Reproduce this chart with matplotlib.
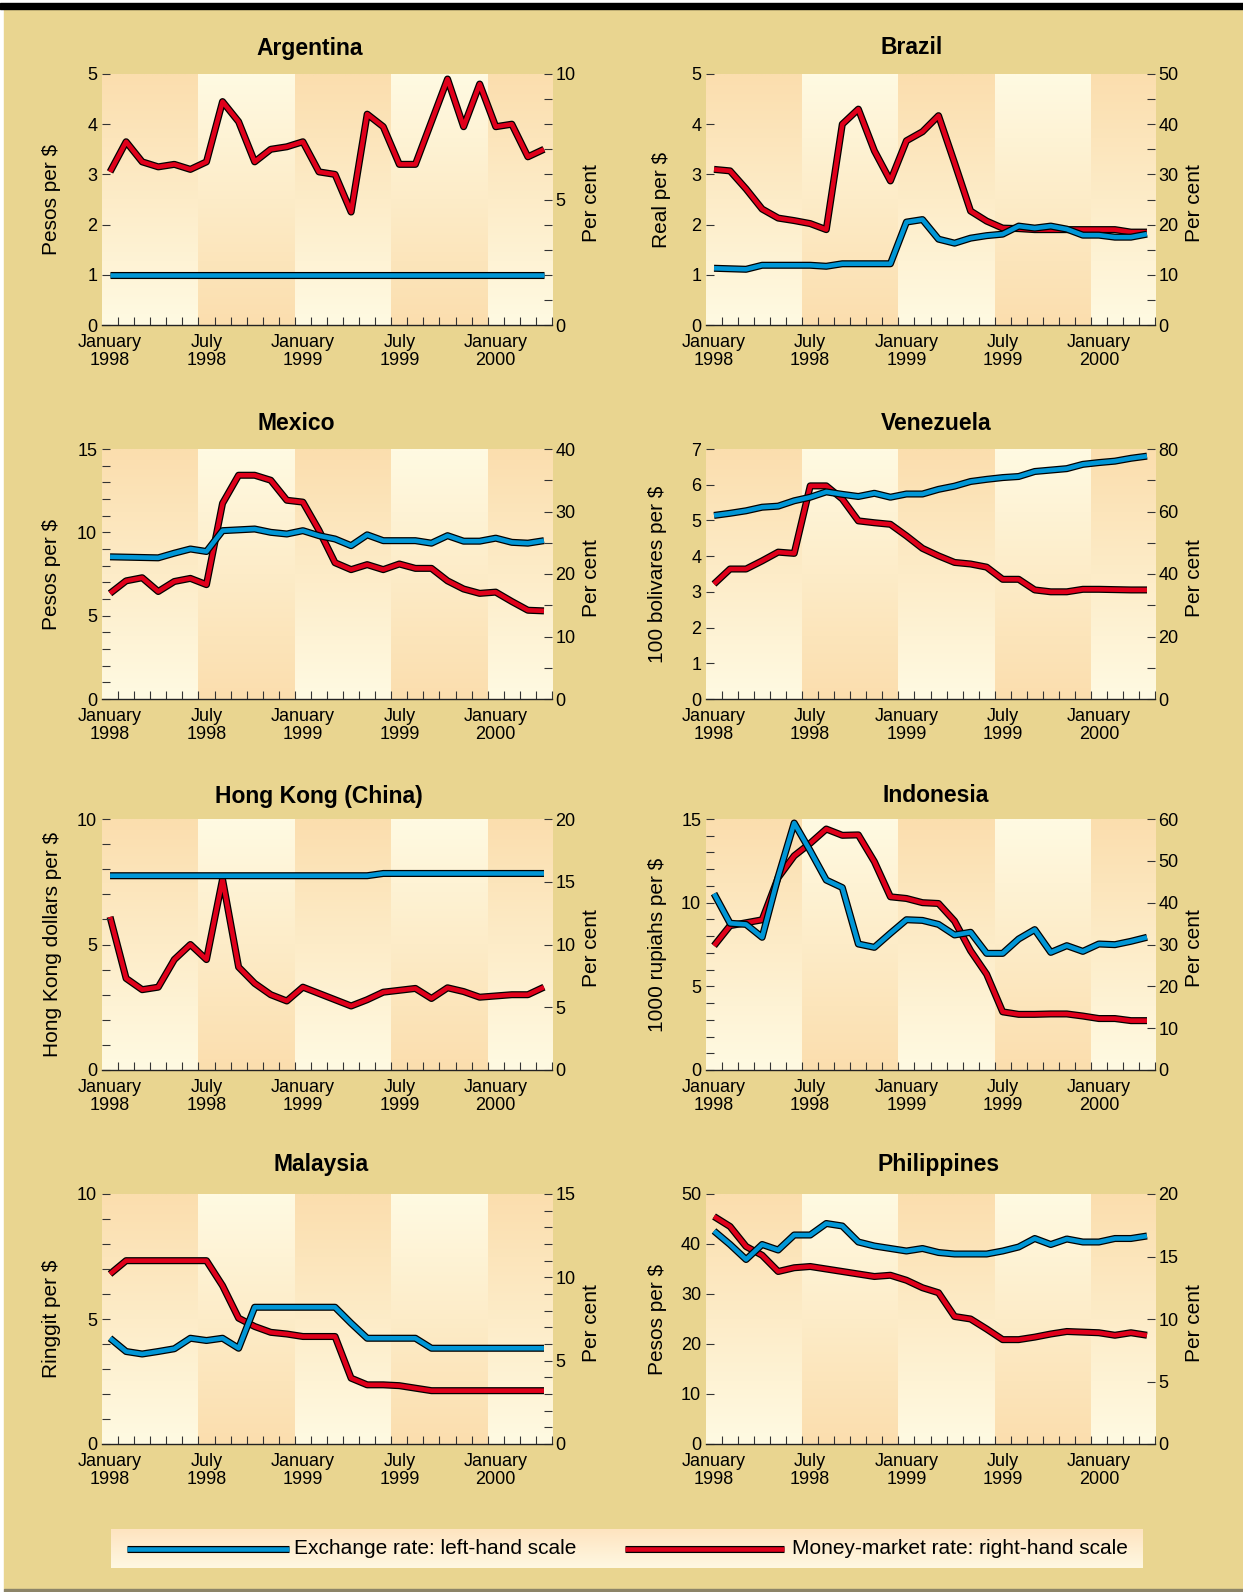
import numpy as np
import matplotlib
matplotlib.use("Agg")
import matplotlib.pyplot as plt
import matplotlib.patheffects as pe
from matplotlib.patches import Rectangle
from matplotlib.ticker import MultipleLocator, FixedLocator, NullLocator
from matplotlib.colors import to_rgb

plt.rcParams['font.family'] = ['Liberation Sans', 'DejaVu Sans']

# ---- data: monthly, January 1998 .. April 2000 (28 months) ----
months = np.arange(28) + 0.5
x_labels = ['January\n1998', 'July\n1998', 'January\n1999', 'July\n1999', 'January\n2000']
x_label_pos = [0.5, 6.5, 12.5, 18.5, 24.5]

titles = ['Argentina', 'Brazil', 'Mexico', 'Venezuela',
          'Hong Kong (China)', 'Indonesia', 'Malaysia', 'Philippines']
left_labels = [r'Pesos per \$', r'Real per \$', r'Pesos per \$', r'100 bolivares per \$',
               r'Hong Kong dollars per \$', r'1000 rupiahs per \$', r'Ringgit per \$', r'Pesos per \$']

# exchange rates (left-hand scale)
arg_fx = [1.0, 1.0, 1.0, 1.0, 1.0, 1.0, 1.0, 1.0, 1.0, 1.0, 1.0, 1.0, 1.0, 1.0,
          1.0, 1.0, 1.0, 1.0, 1.0, 1.0, 1.0, 1.0, 1.0, 1.0, 1.0, 1.0, 1.0, 1.0]
bra_fx = [1.13, 1.12, 1.11, 1.19, 1.19, 1.19, 1.19, 1.17, 1.22, 1.22, 1.22, 1.22, 2.05, 2.10,
          1.71, 1.63, 1.73, 1.78, 1.81, 1.97, 1.93, 1.97, 1.91, 1.79, 1.79, 1.75, 1.75, 1.81]
mex_fx = [8.53, 8.51, 8.49, 8.47, 8.75, 9.0, 8.85, 10.1, 10.15, 10.2, 10.0, 9.9, 10.1, 9.8,
          9.6, 9.2, 9.85, 9.5, 9.5, 9.5, 9.35, 9.8, 9.47, 9.47, 9.65, 9.4, 9.35, 9.5]
ven_fx = [5.14, 5.2, 5.27, 5.37, 5.4, 5.55, 5.65, 5.8, 5.73, 5.67, 5.76, 5.65, 5.74, 5.74,
          5.87, 5.96, 6.09, 6.15, 6.2, 6.23, 6.37, 6.41, 6.45, 6.57, 6.62, 6.66, 6.74, 6.8]
hk_fx = [7.74, 7.74, 7.74, 7.74, 7.74, 7.74, 7.74, 7.74, 7.74, 7.74, 7.74, 7.74, 7.74, 7.74,
         7.74, 7.74, 7.74, 7.83, 7.83, 7.83, 7.83, 7.83, 7.83, 7.83, 7.83, 7.83, 7.83, 7.83]
ind_fx = [10.54, 8.77, 8.7, 7.93, 11.55, 14.76, 13.1, 11.35, 10.9, 7.53, 7.33, 8.17, 8.98, 8.94,
          8.7, 8.07, 8.23, 6.97, 6.97, 7.83, 8.39, 7.03, 7.43, 7.09, 7.53, 7.49, 7.69, 7.93]
mal_fx = [4.23, 3.7, 3.6, 3.7, 3.81, 4.23, 4.14, 4.23, 3.83, 5.47, 5.47, 5.47, 5.47, 5.47,
          5.47, 4.83, 4.23, 4.23, 4.23, 4.23, 3.83, 3.83, 3.83, 3.83, 3.83, 3.83, 3.83, 3.83]
phi_fx = [42.6, 39.9, 36.9, 39.9, 38.8, 41.8, 41.8, 44.1, 43.6, 40.4, 39.6, 39.1, 38.6, 39.1,
          38.3, 38.0, 38.0, 38.0, 38.6, 39.4, 41.1, 39.9, 41.0, 40.4, 40.4, 41.1, 41.1, 41.6]

# money-market rates, per cent (right-hand scale)
arg_mm = [6.1, 7.3, 6.5, 6.3, 6.4, 6.2, 6.5, 8.9, 8.1, 6.5, 7.0, 7.1, 7.3, 6.1,
          6.0, 4.5, 8.4, 7.9, 6.4, 6.4, 8.1, 9.8, 7.9, 9.6, 7.9, 8.0, 6.7, 7.0]
bra_mm = [31.0, 30.7, 27.1, 23.1, 21.3, 20.8, 20.2, 19.0, 40.0, 43.0, 34.7, 28.7, 36.7, 38.5,
          41.7, 32.3, 22.7, 20.7, 19.3, 19.2, 19.0, 19.0, 19.0, 19.0, 19.0, 19.0, 18.5, 18.5]
mex_mm = [16.9, 18.9, 19.4, 17.2, 18.8, 19.3, 18.3, 31.3, 35.8, 35.8, 35.0, 31.8, 31.5, 27.0,
          21.8, 20.7, 21.5, 20.7, 21.6, 20.9, 20.9, 18.9, 17.6, 16.9, 17.1, 15.6, 14.2, 14.1]
ven_mm = [36.8, 41.6, 41.6, 44.2, 47.0, 46.6, 68.2, 68.2, 64.0, 57.0, 56.4, 55.9, 52.2, 48.2,
          45.8, 43.7, 43.2, 42.2, 38.3, 38.3, 34.9, 34.3, 34.3, 35.1, 35.1, 35.0, 34.9, 34.9]
hk_mm = [12.2, 7.3, 6.4, 6.6, 8.8, 10.0, 8.8, 15.2, 8.2, 6.9, 6.0, 5.5, 6.6, 6.1,
         5.6, 5.1, 5.6, 6.2, 6.35, 6.5, 5.7, 6.55, 6.25, 5.8, 5.9, 6.0, 6.0, 6.6]
ind_mm = [29.7, 34.5, 35.2, 35.9, 46.0, 51.2, 54.2, 57.6, 56.1, 56.2, 49.8, 41.4, 41.0, 40.0,
          39.8, 35.6, 28.5, 22.9, 13.9, 13.3, 13.3, 13.4, 13.4, 12.9, 12.3, 12.3, 11.8, 11.8]
mal_mm = [10.2, 11.0, 11.0, 11.0, 11.0, 11.0, 11.0, 9.5, 7.55, 7.05, 6.7, 6.6, 6.45, 6.45,
          6.45, 3.95, 3.55, 3.55, 3.5, 3.35, 3.2, 3.2, 3.2, 3.2, 3.2, 3.2, 3.2, 3.2]
phi_mm = [18.2, 17.4, 15.8, 15.1, 13.8, 14.1, 14.2, 14.0, 13.8, 13.6, 13.4, 13.5, 13.1, 12.5,
          12.1, 10.2, 10.0, 9.2, 8.35, 8.35, 8.55, 8.8, 9.0, 8.95, 8.9, 8.7, 8.9, 8.7]

fx_series = [arg_fx, bra_fx, mex_fx, ven_fx, hk_fx, ind_fx, mal_fx, phi_fx]
mm_series = [arg_mm, bra_mm, mex_mm, ven_mm, hk_mm, ind_mm, mal_mm, phi_mm]

# axis scales: (max, major step, minor step)
left_scales = [(5, 1, None), (5, 1, None), (15, 5, 1), (7, 1, None),
               (10, 5, 1), (15, 5, 1), (10, 5, 1), (50, 10, None)]
right_scales = [(10, 5, 1), (50, 10, 5), (40, 10, 5), (80, 20, 10),
                (20, 5, None), (60, 10, None), (15, 5, 1), (20, 5, None)]

# ---- styling / layout (pixels) ----
W, H = 1243, 1592
TAN = '#E9D590'
PEACH = '#FBDEAE'
CREAM = '#FFFAE2'
BLUE = '#0096D6'
RED = '#E0001B'
cols = [(102, 552), (706, 1155)]
rows = [(74, 325), (449, 699), (819, 1070), (1194, 1444)]
title_dx = [-17, -19, -31, 6, -8, 5, -6, 8]
title_y = [48, 48, 423, 423, 797, 795, 1165, 1165]
ylab_dx = [50, 44, 50, 48, 49, 48, 50, 48]
band_edges = [0, 6, 12, 18, 24, 28]

fig = plt.figure(figsize=(W / 100, H / 100), dpi=100, facecolor='white')

bg = fig.add_axes([0, 0, 1, 1])
bg.set_zorder(-10)
bg.axis('off')
bg.set_xlim(0, W)
bg.set_ylim(H, 0)
bg.add_patch(Rectangle((4, 9), W - 4, 1580, color=TAN))
bg.add_patch(Rectangle((0, 3), W, 6, color='black'))
bg.add_patch(Rectangle((4, 1589), W - 4, 3, color='#8c8468'))


def px_axes(l, t, r, b):
    return fig.add_axes([l / W, 1 - b / H, (r - l) / W, (b - t) / H])


def gradient(top, bottom, n=64):
    g = np.linspace(0, 1, n)[:, None, None]
    return (1 - g) * np.array(to_rgb(top)) + g * np.array(to_rgb(bottom))


def outlined(axis, xs, ys, color):
    axis.plot(xs, ys, color=color, lw=3.3, solid_joinstyle='round', solid_capstyle='butt',
              path_effects=[pe.Stroke(linewidth=5.1, foreground='black'), pe.Normal()], zorder=3)


for k in range(8):
    l, r = cols[k % 2]
    t, b = rows[k // 2]
    ax = px_axes(l, t, r, b)
    ax2 = ax.twinx()
    ax.set_zorder(3)
    ax2.set_zorder(2)
    ax.patch.set_visible(False)

    lmax, lmaj, lmin = left_scales[k]
    rmax, rmaj, rmin = right_scales[k]

    # alternating half-year bands with vertical gradients
    for j in range(len(band_edges) - 1):
        top, bot = (PEACH, CREAM) if j % 2 == 0 else (CREAM, PEACH)
        ax2.imshow(gradient(top, bot), extent=(band_edges[j], band_edges[j + 1], 0, rmax),
                   aspect='auto', origin='upper', zorder=0, interpolation='bilinear')

    outlined(ax2, months, mm_series[k], RED)
    outlined(ax, months, fx_series[k], BLUE)

    for a in (ax, ax2):
        a.set_xlim(0, 28)
    ax.set_ylim(0, lmax)
    ax2.set_ylim(0, rmax)

    for s in ('top', 'left', 'right'):
        ax.spines[s].set_visible(False)
    for s in ax2.spines.values():
        s.set_visible(False)
    ax.spines['bottom'].set_linewidth(1.0)
    ax.spines['bottom'].set_color('#222222')

    ax.yaxis.set_major_locator(MultipleLocator(lmaj))
    ax.yaxis.set_minor_locator(MultipleLocator(lmin) if lmin else NullLocator())
    ax2.yaxis.set_major_locator(MultipleLocator(rmaj))
    ax2.yaxis.set_minor_locator(MultipleLocator(rmin) if rmin else NullLocator())
    ax.tick_params(axis='y', which='both', direction='in', length=6, width=0.8,
                   color='#333333', pad=3.5, labelsize=13)
    ax2.tick_params(axis='y', which='both', direction='in', length=6, width=0.8,
                    color='#333333', pad=2.5, labelsize=13)

    ax.xaxis.set_major_locator(FixedLocator(x_label_pos))
    ax.set_xticklabels(x_labels)
    ax.xaxis.set_minor_locator(FixedLocator(range(1, 29)))
    ax.tick_params(axis='x', which='major', length=0, pad=6.5, labelsize=13)
    ax.tick_params(axis='x', which='minor', direction='in', length=6, width=0.8, color='#333333')
    for lab in ax.get_xticklabels():
        lab.set_linespacing(1.08)

    cx = (l + r) / 2
    cy = (t + b) / 2
    bg.text(cx + title_dx[k], title_y[k], titles[k], ha='center', va='center',
            fontsize=16.5, fontweight='bold')
    bg.text(l - ylab_dx[k], cy, left_labels[k], rotation=90, ha='center', va='center', fontsize=15)
    bg.text(r + 40, cy + 4, 'Per cent', rotation=90, ha='center', va='center', fontsize=15)

# ---- legend ----
lax = px_axes(111, 1529, 1143, 1568)
lax.axis('off')
lax.imshow(gradient('#FEE4C0', '#FFF8E2'), extent=(111, 1143, 1568, 1529),
           aspect='auto', origin='upper', zorder=0)
outlined(lax, [127, 289], [1549, 1549], BLUE)
lax.text(294, 1549, 'Exchange rate: left-hand scale', va='center', ha='left', fontsize=15)
outlined(lax, [625, 784], [1549, 1549], RED)
lax.text(792, 1549, 'Money-market rate: right-hand scale', va='center', ha='left', fontsize=15)
lax.set_xlim(111, 1143)
lax.set_ylim(1568, 1529)

fig.savefig('out.png', dpi=100, facecolor=fig.get_facecolor())
